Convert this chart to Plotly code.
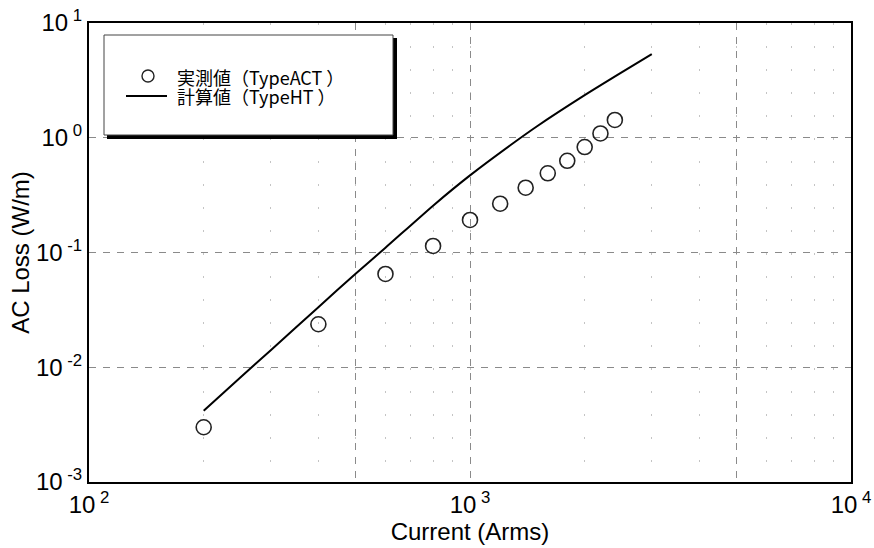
import plotly.graph_objects as go

# ---- data ----
meas_current = [200, 400, 600, 800, 1000, 1200, 1400, 1600, 1800, 2000, 2200, 2400]
meas_loss = [0.0030, 0.0237, 0.065, 0.114, 0.192, 0.266, 0.367, 0.49, 0.63, 0.83, 1.09, 1.43]

calc_current = [200, 250, 300, 400, 500, 600, 800, 1000, 1300, 1500, 2000, 2500, 3000]
calc_loss = [0.00418, 0.0082, 0.0141, 0.0334, 0.065, 0.110, 0.256, 0.47, 0.90, 1.26, 2.35, 3.71, 5.35]

x_tickvals = [100, 500, 1000, 5000, 10000]
x_ticktext = ["10<sup> 2</sup>", "", "10<sup> 3</sup>", "", "10<sup> 4</sup>"]
y_tickvals = [0.001, 0.01, 0.1, 1, 10]
y_ticktext = ["10<sup> -3</sup>", "10<sup> -2</sup>", "10<sup> -1</sup>", "10<sup> 0</sup>", "10<sup> 1</sup>"]

legend_names = ["実測値（TypeACT ）", "計算値（TypeHT ）"]
x_title = "Current (Arms)"
y_title = "AC Loss (W/m)"

LAT = "Liberation Sans, Arial, sans-serif"
CJK = "Noto Sans CJK JP, Noto Sans, sans-serif"

fig = go.Figure()
fig.add_trace(go.Scatter(
    x=calc_current, y=calc_loss, mode="lines", name=legend_names[1],
    line=dict(color="black", width=2, shape="spline", smoothing=0.6), showlegend=False))
fig.add_trace(go.Scatter(
    x=meas_current, y=meas_loss, mode="markers", name=legend_names[0],
    marker=dict(symbol="circle-open", size=15, color="#222", line=dict(width=1.6, color="#222")),
    showlegend=False))

W, H = 874, 548
L, R, T, B = 89, 23, 23, 66
pw, ph = W - L - R, H - T - B


def px(xp):
    return (xp - L) / pw


def py(yp):
    return (H - B - yp) / ph


shapes = []
# legend shadow and box
shapes.append(dict(type="rect", xref="paper", yref="paper",
                   x0=px(107), x1=px(397), y0=py(139), y1=py(38),
                   fillcolor="black", line=dict(width=0), layer="above"))
shapes.append(dict(type="rect", xref="paper", yref="paper",
                   x0=px(104), x1=px(393), y0=py(135), y1=py(35),
                   fillcolor="white", line=dict(color="#444", width=1), layer="above"))
# legend symbols
shapes.append(dict(type="circle", xref="paper", yref="paper",
                   x0=px(142), x1=px(154), y0=py(82), y1=py(70),
                   fillcolor="rgba(0,0,0,0)", line=dict(color="#222", width=1.4), layer="above"))
shapes.append(dict(type="line", xref="paper", yref="paper",
                   x0=px(126), x1=px(167), y0=py(96), y1=py(96),
                   line=dict(color="black", width=2), layer="above"))

annotations = []
for name, yy in zip(legend_names, [77, 96]):
    annotations.append(dict(text=name, xref="paper", yref="paper",
                            x=px(176), y=py(yy), xanchor="left", yanchor="middle", align="left",
                            showarrow=False, borderpad=0,
                            font=dict(family=CJK, size=18, color="black")))

fig.update_layout(
    width=W, height=H,
    margin=dict(l=L, r=R, t=T, b=B),
    paper_bgcolor="white", plot_bgcolor="white",
    shapes=shapes, annotations=annotations,
    font=dict(family=LAT, color="black"),
)
fig.update_xaxes(
    type="log", range=[2, 4],
    tickmode="array", tickvals=x_tickvals, ticktext=x_ticktext,
    tickfont=dict(family=LAT, size=24, color="black"),
    ticks="", showline=True, linecolor="black", linewidth=2, mirror=True,
    showgrid=True, gridcolor="#8a8a8a", gridwidth=1, griddash="7px,7px",
    minor=dict(dtick="D1", showgrid=True, gridcolor="#c4c4c4", gridwidth=1, griddash="1.5px,21.5px", ticks=""),
    zeroline=False, automargin=False,
    title=dict(text=x_title, font=dict(family=LAT, size=24, color="black"), standoff=0),
)
fig.update_yaxes(
    type="log", range=[-3, 1],
    tickmode="array", tickvals=y_tickvals, ticktext=y_ticktext,
    tickfont=dict(family=LAT, size=24, color="black"),
    ticks="", showline=True, linecolor="black", linewidth=2, mirror=True,
    showgrid=True, gridcolor="#8a8a8a", gridwidth=1, griddash="7px,7px",
    zeroline=False, automargin=False,
    title=dict(text=y_title, font=dict(family=LAT, size=24, color="black"), standoff=0),
)

fig.write_html("out.html", config={"displayModeBar": False},
               post_script="document.body.style.margin='0px';document.body.style.overflow='hidden';")
